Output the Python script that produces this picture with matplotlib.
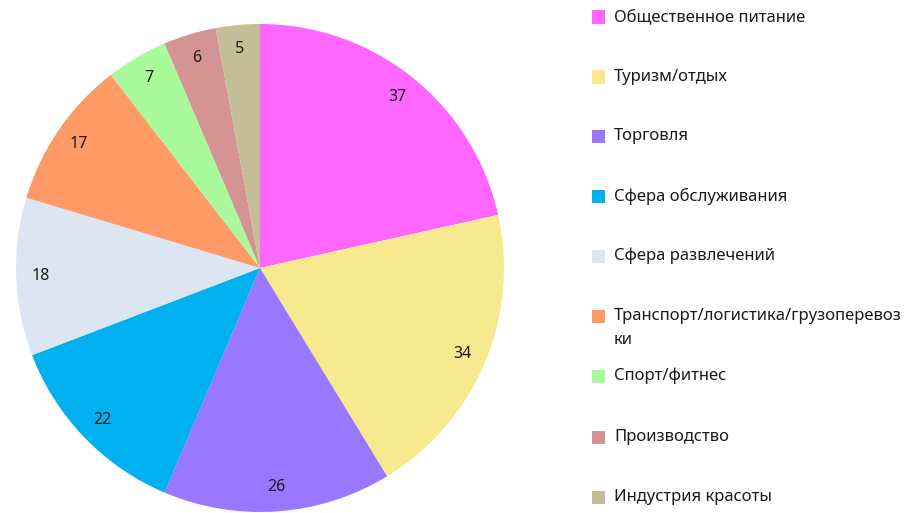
import matplotlib
matplotlib.use("Agg")
import matplotlib.pyplot as plt
from matplotlib.patches import Rectangle

categories = ["Общественное питание", "Туризм/отдых", "Торговля", "Сфера обслуживания",
              "Сфера развлечений", "Транспорт/логистика/грузоперевоз\nки", "Спорт/фитнес",
              "Производство", "Индустрия красоты"]
values = [37, 34, 26, 22, 18, 17, 7, 6, 5]
colors = ["#FF66FF", "#F7E98E", "#9977FF", "#00B0F0", "#DCE6F2", "#FF9966", "#A9FA9A",
          "#D49494", "#C4BD97"]

plt.rcParams['font.family'] = ['Noto Sans', 'DejaVu Sans']

W, H = 919, 513
fig = plt.figure(figsize=(W / 100, H / 100), dpi=100)
cx, cy, r = 260, 268, 244
ax = fig.add_axes([(cx - r) / W, (H - cy - r) / H, 2 * r / W, 2 * r / H])
wedges, texts = ax.pie(values, colors=colors, startangle=90, counterclock=False,
                       labels=[str(v) for v in values], labeldistance=0.9,
                       wedgeprops=dict(linewidth=0),
                       textprops=dict(fontsize=11.5, color="#1a1a1a"))
for t in texts:
    t.set_ha("center")
    t.set_va("center")
ax.set_xlim(-1, 1)
ax.set_ylim(-1, 1)
ax.set_aspect("equal")

legend_y = [17, 77, 136, 196, 256, 316, 376, 437, 497]
for name, col, y in zip(categories, colors, legend_y):
    fig.patches.append(Rectangle(((598 - 6.5) / W, (H - y - 6.5) / H), 13 / W, 13 / H,
                                 transform=fig.transFigure, facecolor=col, edgecolor="none"))
    if "\n" in name:
        first, second = name.split("\n")
        fig.text(614 / W, (H - y) / H, first, fontsize=12, color="#1a1a1a",
                 ha="left", va="center")
        fig.text(614 / W, (H - y - 24) / H, second, fontsize=12, color="#1a1a1a",
                 ha="left", va="center")
    else:
        fig.text(614 / W, (H - y) / H, name, fontsize=12, color="#1a1a1a",
                 ha="left", va="center")

fig.savefig("out.png", dpi=100)
